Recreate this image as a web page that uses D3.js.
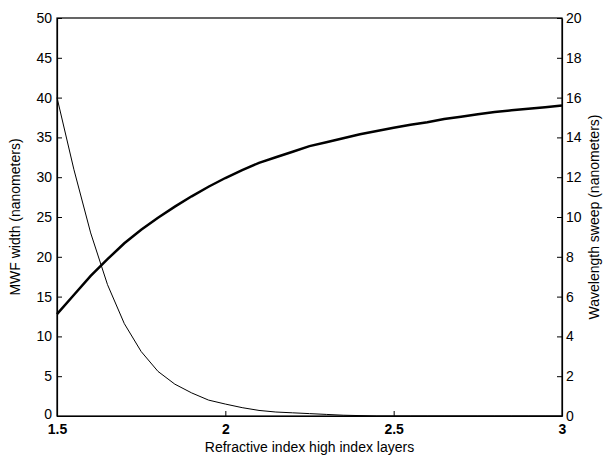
<!DOCTYPE html>
<html><head><meta charset="utf-8">
<script src="https://cdn.jsdelivr.net/npm/d3@7"></script>
<style>body{margin:0;background:#fff}svg{display:block}text{font-family:"Liberation Sans",Arial,sans-serif}</style>
</head><body>
<svg id="c" width="605" height="459"></svg>
<script>
const xValues = [1.5,1.55,1.6,1.65,1.7,1.75,1.8,1.85,1.9,1.95,2.0,2.05,2.1,2.15,2.2,2.25,2.3,2.35,2.4,2.45,2.5,2.55,2.6,2.65,2.7,2.75,2.8,2.85,2.9,2.95,3.0];
const mwfWidth = [12.8,15.2,17.6,19.7,21.7,23.4,24.9,26.3,27.6,28.8,29.9,30.9,31.8,32.5,33.2,33.9,34.4,34.9,35.4,35.8,36.2,36.6,36.9,37.3,37.6,37.9,38.2,38.4,38.6,38.8,39.0];
const wavelengthSweep = [16.0,12.4,9.2,6.6,4.64,3.24,2.24,1.6,1.16,0.8,0.6,0.42,0.28,0.2,0.16,0.12,0.08,0.04,0.02,0,0,0,0,0,0,0,0,0,0,0,0];
const xTicks = [1.5,2,2.5,3];
const leftTicks = [0,5,10,15,20,25,30,35,40,45,50];
const rightTicks = [0,2,4,6,8,10,12,14,16,18,20];
const xTitle = "Refractive index high index layers";
const leftTitle = "MWF width (nanometers)";
const rightTitle = "Wavelength sweep (nanometers)";

const svg = d3.select("#c");
const L=57,R=562,T=18,B=416;
const x = d3.scaleLinear().domain([1.5,3]).range([L,R]);
const yL = d3.scaleLinear().domain([0,50]).range([B,T]);
const yR = d3.scaleLinear().domain([0,20]).range([B,T]);

svg.append("rect").attr("x",L).attr("y",T).attr("width",R-L).attr("height",B-T)
  .attr("fill","none").attr("stroke","#000").attr("stroke-width",1.2);

const ax = svg.append("g").attr("transform",`translate(0,${B})`)
  .call(d3.axisBottom(x).tickValues(xTicks).tickSizeInner(-5).tickSizeOuter(0).tickPadding(8).tickFormat(d3.format("")));
const axL = svg.append("g").attr("transform",`translate(${L},0)`)
  .call(d3.axisLeft(yL).tickValues(leftTicks).tickSizeInner(-5).tickSizeOuter(0).tickPadding(5));
const axR = svg.append("g").attr("transform",`translate(${R},0)`)
  .call(d3.axisRight(yR).tickValues(rightTicks).tickSizeInner(-5).tickSizeOuter(0).tickPadding(4));
[ax,axL,axR].forEach(g=>{
  g.select(".domain").attr("stroke","#000").attr("stroke-width",1.2);
  g.selectAll(".tick line").attr("stroke","#000");
  g.selectAll(".tick text").attr("fill","#000").style("font-size","14px").style("font-family",'"Liberation Sans",Arial,sans-serif');
});
ax.selectAll(".tick text").style("font-weight","bold");
axL.selectAll(".tick text").filter(d=>d===0).attr("dy","0.2em");

const lineL = d3.line().x((d,i)=>x(xValues[i])).y(d=>yL(d));
const lineR = d3.line().x((d,i)=>x(xValues[i])).y(d=>yR(d));
svg.append("path").datum(mwfWidth).attr("d",lineL).attr("fill","none").attr("stroke","#000").attr("stroke-width",2.5);
svg.append("path").datum(wavelengthSweep).attr("d",lineR).attr("fill","none").attr("stroke","#000").attr("stroke-width",1);

svg.append("text").attr("x",(L+R)/2).attr("y",452).attr("text-anchor","middle").style("font-size","14px").text(xTitle);
svg.append("text").attr("transform",`translate(20,${(T+B)/2}) rotate(-90)`).attr("text-anchor","middle").style("font-size","14px").text(leftTitle);
svg.append("text").attr("transform",`translate(599,${(T+B)/2}) rotate(-90)`).attr("text-anchor","middle").style("font-size","14px").text(rightTitle);
</script>
</body></html>
